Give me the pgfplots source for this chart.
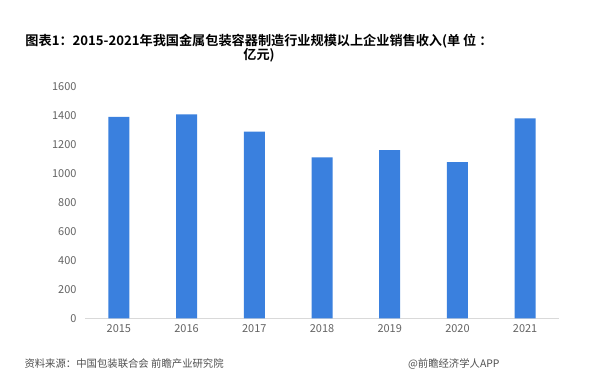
\documentclass[border=0pt]{standalone}
\usepackage{pgfplots}
\pgfplotsset{compat=1.18}
\usepackage{fontspec}
\setmainfont{Noto Sans CJK SC}
\newfontfamily\cjk{Noto Sans CJK SC}
\newfontfamily\cjkb{Noto Sans CJK SC Bold}
\definecolor{barblue}{RGB}{58,128,222}
\definecolor{ticktext}{RGB}{100,100,100}
\definecolor{axisgray}{RGB}{217,217,217}
\definecolor{srcgray}{RGB}{80,80,80}
\begin{document}
\begin{tikzpicture}
\path[use as bounding box, fill=white] (0,0) rectangle (603bp,390bp);
\node[font=\cjkb\fontsize{13.2}{14.5}\selectfont, align=center, anchor=base] at (259bp,344bp) {图表1：2015-2021年我国金属包装容器制造行业规模以上企业销售收入(单 位 ：};
\node[font=\cjkb\fontsize{13.2}{14.5}\selectfont, anchor=base] at (259bp,330bp) {亿元)};
\begin{axis}[
  at={(85bp,71.7bp)}, anchor=south west,
  scale only axis, width=474bp, height=231.6bp,
  xmin=-0.5, xmax=6.5, ymin=0, ymax=1600,
  enlargelimits=false,
  axis x line*=bottom, axis y line*=left,
  x axis line style={draw=axisgray, line width=0.8bp},
  y axis line style={draw=none},
  major tick length=0pt,
  xtick=data,
  xticklabels={2015,2016,2017,2018,2019,2020,2021},
  ytick={0,200,...,1600},
  /pgf/number format/1000 sep={},
  /pgf/number format/assume math mode=true,
  tick label style={font=\cjk\fontsize{11}{12}\selectfont, text=ticktext},
  xticklabel style={yshift=-3bp},
  yticklabel style={xshift=-5bp},
]
\addplot[ybar, bar width=21bp, fill=barblue, draw=none] coordinates {
(0,1392) (1,1409) (2,1289) (3,1112) (4,1162) (5,1079) (6,1381)};
\end{axis}
\node[anchor=west, font=\cjk\fontsize{10.4}{11}\selectfont, text=srcgray] at (21bp,26bp) {资料来源：中国包装联合会 前瞻产业研究院};
\node[anchor=east, font=\cjk\fontsize{10.4}{11}\selectfont, text=srcgray] at (503bp,26bp) {@前瞻经济学人APP};
\end{tikzpicture}
\end{document}
